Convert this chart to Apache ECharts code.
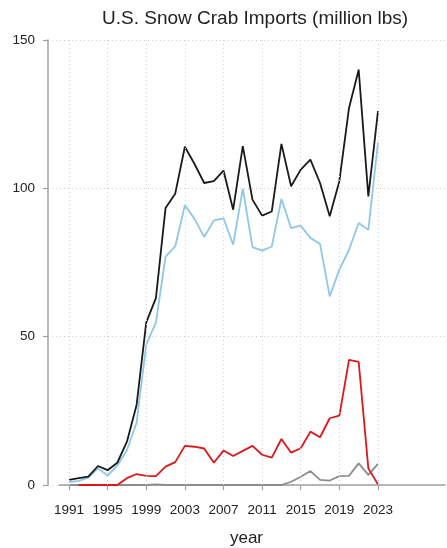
<!DOCTYPE html>
<html><head><meta charset="utf-8">
<script src="https://cdn.jsdelivr.net/npm/echarts@6/dist/echarts.min.js"></script>
<style>html,body{margin:0;padding:0;background:#fff}#c{width:447px;height:548px}</style>
</head><body><div id="c"></div>
<script>
const years = [];
for (let y = 1991; y <= 2023; y++) years.push(y);
const totalImports = [1.7,2.3,2.8,6.4,5.0,7.5,14.6,27.0,54.8,63.0,93.4,98.2,114.0,108.2,101.8,102.4,106.0,92.8,114.2,96.2,90.8,92.2,115.0,100.7,106.3,109.7,101.8,90.6,102.4,127.1,140.0,97.3,126.0];
const canadaImports = [1.0,1.4,2.5,5.6,3.2,6.5,11.8,21.0,47.3,54.7,77.0,80.4,94.3,89.7,83.6,89.2,89.9,81.0,99.9,80.2,79.0,80.4,96.4,86.6,87.4,83.3,81.2,63.6,72.6,79.3,88.3,86.0,115.5];
const russiaImports = [null,0,0,0,0,0,2.3,3.7,3.1,3.0,6.2,7.7,13.2,12.9,12.3,7.5,11.6,9.8,11.5,13.2,10.2,9.2,15.5,10.9,12.4,18.0,16.1,22.5,23.4,42.2,41.5,5.6,0.2];
const otherImports = [0,0,0,0,0,0,0,0,0,0.2,0,0,0,0,0,0,0,0,0,0,0,0,0,1.1,2.8,4.7,1.7,1.5,3.0,3.1,7.3,3.4,7.1];
const xTicks = [1991,1995,1999,2003,2007,2011,2015,2019,2023];
const yTicks = [0,50,100,150];

const pair = a => years.map((y,i)=>[y,a[i]]);
const font = '"Liberation Sans", Arial, sans-serif';
const axisGray = '#a0a0a0';
const gridStyle = {color:'#cfcfcf', type:[1,3], width:1};

const chart = echarts.init(document.getElementById('c'), null, {renderer:'canvas'});
chart.setOption({
  animation:false,
  title:{text:'U.S. Snow Crab Imports (million lbs)', left:97, top:4,
    textStyle:{fontFamily:font, fontSize:19, fontWeight:'normal', color:'#222'}},
  grid:[{left:48, right:2, top:40, bottom:63, outerBoundsMode:'none', containLabel:false},
        {left:59, right:2, top:40, bottom:63, outerBoundsMode:'none', containLabel:false}],
  xAxis:[{
    type:'value', gridIndex:0, min:1988.825, max:2029.94, offset:10,
    axisLine:{show:false},
    axisTick:{show:false},
    axisLabel:{fontFamily:font, fontSize:13.5, color:'#222', margin:8, customValues:xTicks, formatter:v=>String(v)},
    splitLine:{show:false},
    name:'year', nameLocation:'middle', nameGap:35,
    nameTextStyle:{fontFamily:font, fontSize:17, color:'#222'}
  },{
    type:'value', gridIndex:1, min:1989.964, max:2029.94, offset:10,
    axisLine:{show:true, lineStyle:{color:axisGray, width:1.5}},
    axisTick:{show:true, length:5, lineStyle:{color:axisGray, width:1.2}, customValues:xTicks},
    axisLabel:{show:false, customValues:xTicks}, splitLine:{show:false}
  }],
  yAxis:[{
    type:'value', gridIndex:0, min:0, max:150, interval:50,
    axisLine:{show:true, lineStyle:{color:axisGray, width:1.5}},
    axisTick:{show:true, length:5, lineStyle:{color:axisGray, width:1.2}},
    axisLabel:{fontFamily:font, fontSize:13.5, color:'#222', margin:13},
    splitLine:{show:true, lineStyle:gridStyle}
  },{
    type:'value', gridIndex:1, show:false
  }],
  series:[
    {type:'line', name:'grid', data:[], silent:true, z:1,
      markLine:{silent:true, symbol:'none', label:{show:false}, lineStyle:gridStyle, animation:false,
        data:xTicks.map(v=>({xAxis:v}))}},
    {type:'line', name:'Other', data:pair(otherImports), showSymbol:false, lineStyle:{color:'#8c8c8c', width:1.8}, itemStyle:{color:'#8c8c8c'}},
    {type:'line', name:'Russia', data:pair(russiaImports), showSymbol:false, lineStyle:{color:'#e0161b', width:1.8}, itemStyle:{color:'#e0161b'}},
    {type:'line', name:'Canada', data:pair(canadaImports), showSymbol:false, lineStyle:{color:'#8ec7ee', width:1.8}, itemStyle:{color:'#8ec7ee'}},
    {type:'line', name:'Total', data:pair(totalImports), showSymbol:false, lineStyle:{color:'#1a1a1a', width:1.8}, itemStyle:{color:'#1a1a1a'}}
  ]
});
</script></body></html>
